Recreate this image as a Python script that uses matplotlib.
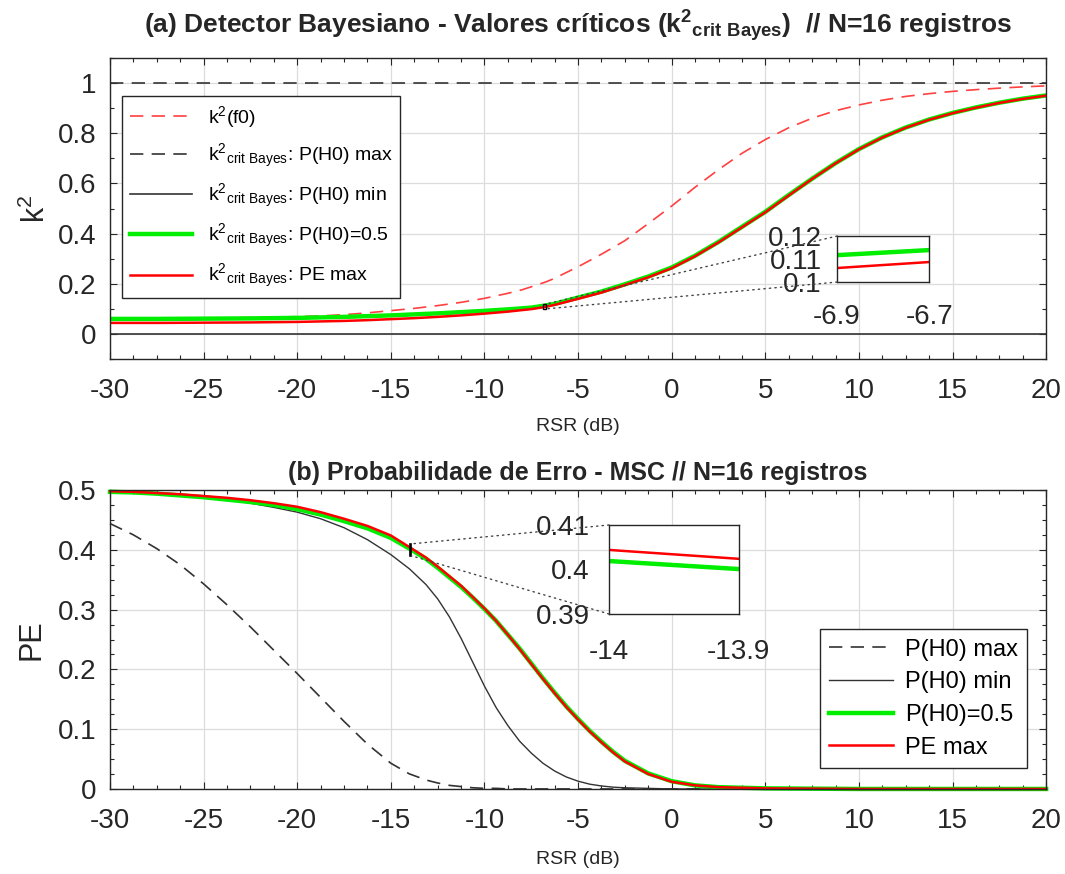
import numpy as np
import matplotlib
matplotlib.use('Agg')
import matplotlib.pyplot as plt
from matplotlib.patches import Rectangle, ConnectionPatch
from matplotlib.ticker import MultipleLocator

# ---- data ----
# (a) critical values k^2 vs RSR (dB)
rsr_a = [-30, -27.5, -25, -22.5, -20, -18.75, -17.5, -16.25, -15, -13.75, -12.5, -11.25, -10,
         -8.75, -8, -7.5, -6.9, -6.7, -6.25, -5, -3.75, -2.5, -1.25, 0, 1.25, 2.5, 3.75, 5,
         6.25, 7.5, 8.75, 10, 11.25, 12.5, 13.75, 15, 16.25, 17.5, 18.75, 20]
k2_f0 = [0.062, 0.062, 0.063, 0.065, 0.069, 0.072, 0.077, 0.084, 0.093, 0.102, 0.113, 0.126, 0.142,
         0.162, 0.176, 0.188, 0.203, 0.208, 0.222, 0.268, 0.318, 0.372, 0.44, 0.51, 0.585, 0.655, 0.72, 0.775,
         0.822, 0.86, 0.89, 0.913, 0.932, 0.947, 0.958, 0.967, 0.974, 0.98, 0.985, 0.989]
k2_h0max = [1.0] * len(rsr_a)
k2_h0min = [0.0] * len(rsr_a)
k2_h05 = [0.060, 0.060, 0.061, 0.062, 0.064, 0.066, 0.068, 0.071, 0.074, 0.078, 0.082, 0.087, 0.092,
          0.098, 0.102, 0.105, 0.1117, 0.1139, 0.120, 0.145, 0.169, 0.198, 0.229, 0.265, 0.312, 0.367, 0.427, 0.487,
          0.554, 0.619, 0.681, 0.737, 0.784, 0.823, 0.855, 0.881, 0.903, 0.922, 0.938, 0.951]
k2_pemax = [0.044, 0.044, 0.045, 0.046, 0.048, 0.050, 0.052, 0.055, 0.059, 0.063, 0.068, 0.074, 0.081,
            0.089, 0.095, 0.099, 0.1061, 0.1087, 0.116, 0.140, 0.165, 0.195, 0.226, 0.262, 0.31, 0.365, 0.425, 0.485,
            0.552, 0.618, 0.68, 0.736, 0.783, 0.822, 0.854, 0.880, 0.902, 0.921, 0.937, 0.950]

# (b) error probability vs RSR (dB)
rsr_b = [-30, -28.75, -27.5, -26.25, -25, -23.75, -22.5, -21.25, -20, -18.75, -17.5, -16.25, -15,
         -14, -13.9, -13.125, -12.5, -11.875, -11.25, -10.625, -10, -9.375, -8.75, -8.125, -7.5,
         -6.875, -6.25, -5.625, -5, -4.375, -3.75, -3.125, -2.5, -1.25, 0, 1.25, 2.5, 5, 10, 15, 20]
pe_h0max = [0.444, 0.425, 0.402, 0.375, 0.343, 0.308, 0.271, 0.232, 0.193, 0.153, 0.113, 0.075, 0.043,
            0.025, 0.024, 0.015, 0.010, 0.006, 0.004, 0.002, 0.001, 0.001, 0.0, 0.0, 0.0,
            0.0, 0.0, 0.0, 0.0, 0.0, 0.0, 0.0, 0.0, 0.0, 0.0, 0.0, 0.0, 0.0, 0.0, 0.0, 0.0]
pe_h0min = [0.497, 0.496, 0.494, 0.492, 0.488, 0.484, 0.478, 0.471, 0.463, 0.452, 0.437, 0.417, 0.392,
            0.368, 0.365, 0.342, 0.318, 0.288, 0.252, 0.212, 0.172, 0.136, 0.106, 0.080, 0.060,
            0.043, 0.030, 0.020, 0.013, 0.008, 0.005, 0.003, 0.002, 0.001, 0.0, 0.0, 0.0, 0.0, 0.0, 0.0, 0.0]
pe_h05 = [0.497, 0.496, 0.494, 0.491, 0.488, 0.484, 0.480, 0.475, 0.468, 0.459, 0.448, 0.436, 0.420,
          0.4019, 0.4001, 0.385, 0.370, 0.354, 0.338, 0.320, 0.301, 0.281, 0.258, 0.235, 0.210,
          0.185, 0.161, 0.138, 0.117, 0.097, 0.079, 0.062, 0.047, 0.026, 0.013, 0.006, 0.003, 0.001, 0.0, 0.0, 0.0]
pe_max = [0.498, 0.497, 0.495, 0.493, 0.490, 0.487, 0.483, 0.478, 0.472, 0.463, 0.452, 0.440, 0.424,
          0.4044, 0.4024, 0.387, 0.372, 0.356, 0.340, 0.321, 0.302, 0.281, 0.258, 0.234, 0.209,
          0.184, 0.160, 0.137, 0.116, 0.096, 0.078, 0.061, 0.046, 0.025, 0.012, 0.006, 0.003, 0.001, 0.0, 0.0, 0.0]

plt.rcParams['font.family'] = 'Liberation Sans'
plt.rcParams['axes.unicode_minus'] = False
plt.rcParams['mathtext.fontset'] = 'custom'
plt.rcParams['mathtext.rm'] = 'Liberation Sans'
plt.rcParams['mathtext.bf'] = 'Liberation Sans:bold'

dark = '#262626'
fig = plt.figure(figsize=(10.65, 8.74), dpi=100)


def style(ax, gridon=True):
    ax.tick_params(which='both', direction='in', top=True, right=True, colors=dark,
                   labelsize=20, width=0.8)
    ax.tick_params(which='major', length=5)
    ax.tick_params(which='minor', length=3)
    ax.tick_params(axis='x', which='major', pad=14)
    ax.tick_params(axis='y', which='major', pad=10)
    for s in ax.spines.values():
        s.set_color(dark)
        s.set_linewidth(1.0)
    if gridon:
        ax.grid(True, which='major', color='#dcdcdc', lw=0.9)
        ax.set_axisbelow(True)


kcb = r'$\mathregular{k^{2}{}_{crit\ Bayes}}$'

# ---------- (a) ----------
ax1 = fig.add_axes([0.1033, 0.5892, 0.879, 0.3444])
ax1.plot(rsr_a, k2_f0, ls=(0, (8, 5)), color='#ff4040', lw=1.2, label=r'$\mathregular{k^2}$(f0)')
ax1.plot(rsr_a, k2_h0max, ls=(0, (8, 5)), color='#333333', lw=1.2, label=kcb + ': P(H0) max')
ax1.plot(rsr_a, k2_h0min, color='#333333', lw=1.2, label=kcb + ': P(H0) min')
ax1.plot(rsr_a, k2_h05, color='#00ee00', lw=3.2, label=kcb + ': P(H0)=0.5')
ax1.plot(rsr_a, k2_pemax, color='#ff0000', lw=1.8, label=kcb + ': PE max')
ax1.set_xlim(-30, 20)
ax1.set_ylim(-0.1, 1.1)
ax1.set_xticks(np.arange(-30, 21, 5))
ax1.set_yticks([0, 0.2, 0.4, 0.6, 0.8, 1])
ax1.set_yticklabels(['0', '0.2', '0.4', '0.6', '0.8', '1'])
ax1.xaxis.set_minor_locator(MultipleLocator(1.25))
ax1.yaxis.set_minor_locator(MultipleLocator(0.1))
style(ax1)
ax1.set_xlabel('RSR (dB)', fontsize=14, color=dark, labelpad=10)
ax1.set_ylabel(r'$\mathregular{k^2}$', fontsize=22, color=dark, labelpad=4)
ax1.set_title(r'(a) Detector Bayesiano - Valores críticos ($\mathbf{k^{2}{}_{crit\ Bayes}}$)  // N=16 registros',
              fontsize=19, fontweight='bold', color=dark, pad=18)
leg1 = ax1.legend(loc='upper left', bbox_to_anchor=(0.0128, 0.874), borderaxespad=0, fontsize=14,
                  handlelength=3.2, fancybox=False, edgecolor=dark, framealpha=1, labelspacing=0.62)
leg1.get_frame().set_linewidth(1.0)
ax1.add_patch(Rectangle((-6.9, 0.1), 0.2, 0.02, fill=False, ec='k', lw=1, zorder=5))

ins1 = fig.add_axes([0.786, 0.6773, 0.0864, 0.0526])
ins1.plot(rsr_a, k2_h05, color='#00ee00', lw=3.2)
ins1.plot(rsr_a, k2_pemax, color='#ff0000', lw=1.8)
ins1.set_xlim(-6.9, -6.7)
ins1.set_ylim(0.1, 0.12)
ins1.set_xticks([-6.9, -6.7])
ins1.set_xticklabels(['-6.9', '-6.7'])
ins1.set_yticks([0.1, 0.11, 0.12])
ins1.set_yticklabels(['0.1', '0.11', '0.12'])
style(ins1, gridon=False)
ins1.tick_params(top=False, right=False, length=0)
ins1.tick_params(axis='x', pad=16)
ins1.tick_params(axis='y', pad=11)
for ya, yb in [(0.12, 0.12), (0.1, 0.1)]:
    con = ConnectionPatch(xyA=(-6.9, ya), coordsA=ins1.transData, xyB=(-6.7, yb), coordsB=ax1.transData,
                          ls=(0, (1, 3)), color='#444444', lw=1)
    fig.add_artist(con)

# ---------- (b) ----------
ax2 = fig.add_axes([0.1033, 0.0973, 0.879, 0.342])
ax2.plot(rsr_b, pe_h0max, ls=(0, (8, 5)), color='#333333', lw=1.2, label='P(H0) max', clip_on=False)
ax2.plot(rsr_b, pe_h0min, color='#333333', lw=1.0, label='P(H0) min', clip_on=False)
ax2.plot(rsr_b, pe_h05, color='#00ee00', lw=3.2, label='P(H0)=0.5', clip_on=False)
ax2.plot(rsr_b, pe_max, color='#ff0000', lw=1.8, label='PE max', clip_on=False)
ax2.set_xlim(-30, 20)
ax2.set_ylim(0, 0.5)
ax2.set_xticks(np.arange(-30, 21, 5))
ax2.set_yticks([0, 0.1, 0.2, 0.3, 0.4, 0.5])
ax2.set_yticklabels(['0', '0.1', '0.2', '0.3', '0.4', '0.5'])
ax2.xaxis.set_minor_locator(MultipleLocator(1.25))
ax2.yaxis.set_minor_locator(MultipleLocator(0.025))
style(ax2)
ax2.set_xlabel('RSR (dB)', fontsize=14, color=dark, labelpad=12)
ax2.set_ylabel('PE', fontsize=22, color=dark, labelpad=8)
ax2.set_title('(b) Probabilidade de Erro - MSC // N=16 registros', fontsize=18, fontweight='bold',
              color=dark, pad=7)
leg2 = ax2.legend(loc='lower right', bbox_to_anchor=(0.98, 0.07), borderaxespad=0, fontsize=17,
                  handlelength=2.7, fancybox=False, edgecolor=dark, framealpha=1, labelspacing=0.45,
                  handletextpad=0.5)
leg2.get_frame().set_linewidth(1.0)
ax2.add_patch(Rectangle((-14, 0.39), 0.1, 0.02, fill=False, ec='k', lw=1.2, zorder=5))

ins2 = fig.add_axes([0.5718, 0.2975, 0.122, 0.1018])
ins2.plot(rsr_b, pe_h05, color='#00ee00', lw=3.2)
ins2.plot(rsr_b, pe_max, color='#ff0000', lw=1.8)
ins2.set_xlim(-14, -13.9)
ins2.set_ylim(0.39, 0.41)
ins2.set_xticks([-14, -13.9])
ins2.set_xticklabels(['-14', '-13.9'])
ins2.set_yticks([0.39, 0.4, 0.41])
ins2.set_yticklabels(['0.39', '0.4', '0.41'])
style(ins2, gridon=False)
ins2.tick_params(top=False, right=False, length=0)
ins2.tick_params(axis='x', pad=18)
ins2.tick_params(axis='y', pad=14)
for ya, yb in [(0.41, 0.41), (0.39, 0.39)]:
    con = ConnectionPatch(xyA=(-14, ya), coordsA=ins2.transData, xyB=(-13.9, yb), coordsB=ax2.transData,
                          ls=(0, (1, 3)), color='#444444', lw=1)
    fig.add_artist(con)

fig.savefig('out.png', dpi=100)
